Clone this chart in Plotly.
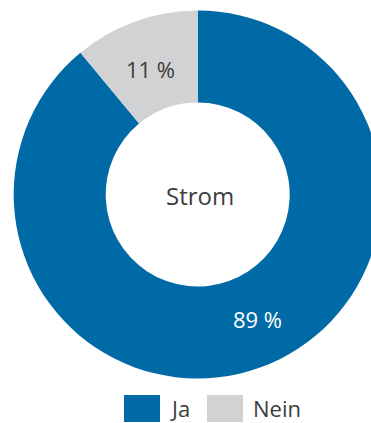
import plotly.graph_objects as go

# Survey answers for electricity ("Strom")
labels = ["Ja", "Nein"]
values = [89, 11]
colors = ["#006aa7", "#d1d2d4"]
text_colors = ["#ffffff", "#3c3c3c"]
center_label = "Strom"

W, H = 384, 423
FONT = "Open Sans"

fig = go.Figure(
    go.Pie(
        labels=labels,
        values=values,
        hole=0.5,
        sort=False,
        direction="clockwise",
        rotation=0,
        marker=dict(colors=colors, line=dict(width=0)),
        textinfo="none",
        hoverinfo="label+value",
        domain=dict(x=[13.7 / W, 381.7 / W], y=[44.5 / H, 412.5 / H]),
        showlegend=False,
    )
)


def note(text, px, py, color, xanchor="center", size=21):
    return dict(text=text, x=px / W, y=1 - py / H, xref="paper", yref="paper",
                xanchor=xanchor, yanchor="middle", showarrow=False,
                font=dict(family=FONT, size=size, color=color))


annotations = [note(center_label, 200, 195, "#3c3c3c", size=24)]

# value labels placed inside each slice
label_pos = [(257, 319), (150, 69)]
for v, tc, (px, py) in zip(values, text_colors, label_pos):
    annotations.append(note(f"{v} %", px, py, tc, size=22))

# legend boxes and names along the bottom
shapes = []
box_x = [124, 207]
for lab, col, bx in zip(labels, colors, box_x):
    shapes.append(dict(type="rect", xref="paper", yref="paper",
                       x0=bx / W, x1=(bx + 36) / W, y0=1 - 422 / H, y1=1 - 395 / H,
                       fillcolor=col, line=dict(width=0)))
    annotations.append(note(lab, bx + 44, 407.5, "#3c3c3c", xanchor="left", size=22))

fig.update_layout(
    width=W,
    height=H,
    margin=dict(l=0, r=0, t=0, b=0),
    paper_bgcolor="white",
    plot_bgcolor="white",
    annotations=annotations,
    shapes=shapes,
)

fig.write_html(
    "out.html",
    post_script="document.body.style.margin='0';document.body.style.overflow='hidden';",
)
